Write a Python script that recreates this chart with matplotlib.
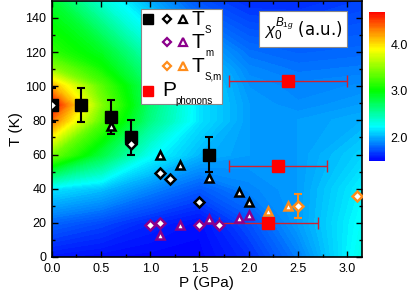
import numpy as np
import matplotlib
matplotlib.use('Agg')
import matplotlib.pyplot as plt
from matplotlib.colors import LinearSegmentedColormap
from matplotlib.patches import Rectangle

plt.rcParams['font.family'] = ['Liberation Sans', 'DejaVu Sans']
plt.rcParams['mathtext.fontset'] = 'custom'
plt.rcParams['mathtext.rm'] = 'Liberation Sans'
plt.rcParams['mathtext.it'] = 'Liberation Sans:italic'

# background chi_0^B1g map
p_grid = [0.0, 0.5, 1.0, 1.5, 2.0, 2.5, 3.15]
t_grid = [0, 20, 40, 60, 80, 89, 100, 110, 120, 150]
chi_map = [
    [1.55, 1.52, 1.50, 1.50, 1.62, 1.85, 2.30],
    [1.78, 1.70, 1.60, 1.53, 1.72, 1.95, 2.25],
    [2.15, 2.05, 1.88, 1.75, 1.88, 1.95, 2.20],
    [3.40, 2.80, 2.25, 2.02, 1.95, 1.95, 2.10],
    [4.35, 3.30, 2.60, 2.15, 1.95, 1.95, 2.00],
    [4.69, 3.45, 2.65, 2.15, 1.95, 1.90, 1.95],
    [4.15, 3.30, 2.65, 2.15, 1.92, 1.88, 1.90],
    [3.50, 3.05, 2.55, 2.10, 1.88, 1.83, 1.85],
    [3.15, 2.90, 2.40, 2.00, 1.82, 1.78, 1.80],
    [2.85, 2.35, 1.98, 1.72, 1.62, 1.62, 1.68],
]

# T_S
ts_sq_p = [0.0, 0.3, 0.6, 0.8, 1.6]
ts_sq_t = [89, 89, 82, 70, 60]
ts_sq_err = [10, 10, 10, 10, 10]
ts_dia_p = [0.0, 0.8, 1.1, 1.2, 1.5]
ts_dia_t = [89, 66, 49, 45.5, 32]
ts_tri_p = [0.6, 1.1, 1.3, 1.6, 1.9, 2.0]
ts_tri_t = [77, 60, 54, 46, 38, 32]
# T_m
tm_dia_p = [1.0, 1.1, 1.5, 1.7]
tm_dia_t = [19, 20, 19, 19]
tm_tri_p = [1.1, 1.3, 1.6, 1.9, 2.0]
tm_tri_t = [13, 18.5, 22, 23, 24.5]
# T_S,m
tsm_tri_p = [2.2, 2.4]
tsm_tri_t = [27, 30]
tsm_dia_p = [2.5, 3.1]
tsm_dia_t = [30, 36]
tsm_dia_err = [7, 0]
# P_phonons
ph_p = [2.4, 2.3, 2.2]
ph_t = [103, 53, 20]
ph_perr = [0.6, 0.5, 0.5]

purple = '#8b008b'
orange = '#ff8c1a'

cmap = LinearSegmentedColormap.from_list('chi', [
    (0.0, (0, 0, 1)), (0.23, (0, 1, 1)), (0.47, (0, 1, 0)),
    (0.75, (1, 1, 0)), (0.87, (1, 0.55, 0)), (1.0, (1, 0, 0))])

fig = plt.figure(figsize=(4.15, 2.93), dpi=100)
ax = fig.add_axes([0.125, 0.123, 0.747, 0.874])
cax = fig.add_axes([0.889, 0.451, 0.039, 0.509])

cf = ax.contourf(p_grid, t_grid, chi_map, levels=np.linspace(1.49, 4.71, 120),
                 cmap=cmap)
cf.set_edgecolor('face')
cb = fig.colorbar(cf, cax=cax, ticks=[2.0, 3.0, 4.0])
cb.outline.set_visible(False)
cb.ax.tick_params(length=0, labelsize=9, pad=4)
cb.ax.set_yticklabels(['2.0', '3.0', '4.0'])

# error bars
ax.errorbar(ts_sq_p, ts_sq_t, yerr=ts_sq_err, fmt='none', ecolor='black',
            elinewidth=1.5, capsize=3, capthick=1.5, zorder=3)
ax.errorbar(tsm_dia_p[:1], tsm_dia_t[:1], yerr=tsm_dia_err[:1], fmt='none',
            ecolor=orange, elinewidth=1.5, capsize=3, capthick=1.5, zorder=3)
ax.errorbar(ph_p, ph_t, xerr=ph_perr, fmt='none', ecolor='#d02030',
            elinewidth=1, capsize=4, capthick=1, zorder=3)

ax.plot(ts_sq_p, ts_sq_t, 's', color='black', ms=8, zorder=4)
ax.plot(ts_dia_p, ts_dia_t, 'D', mfc='white', mec='black', mew=1.8, ms=5, zorder=5)
ax.plot(ts_tri_p, ts_tri_t, '^', mfc='white', mec='black', mew=1.8, ms=6, zorder=5)
ax.plot(tm_dia_p, tm_dia_t, 'D', mfc='white', mec=purple, mew=1.8, ms=5, zorder=5)
ax.plot(tm_tri_p, tm_tri_t, '^', mfc='white', mec=purple, mew=1.8, ms=6, zorder=5)
ax.plot(tsm_tri_p, tsm_tri_t, '^', mfc='white', mec=orange, mew=1.8, ms=6, zorder=5)
ax.plot(tsm_dia_p, tsm_dia_t, 'D', mfc='white', mec=orange, mew=1.8, ms=5, zorder=5)
ax.plot(ph_p, ph_t, 's', color='#ff0000', ms=8, zorder=4)

ax.set_xlim(0, 3.15)
ax.set_ylim(0, 150)
ax.set_xticks([0, 0.5, 1.0, 1.5, 2.0, 2.5, 3.0])
ax.set_xticklabels(['0.0', '0.5', '1.0', '1.5', '2.0', '2.5', '3.0'])
ax.set_xticks(np.arange(0.25, 3.15, 0.5), minor=True)
ax.set_yticks(range(0, 141, 20))
ax.set_yticks(range(10, 150, 20), minor=True)
ax.tick_params(which='both', direction='in', top=True, right=True, labelsize=9,
               width=1)
ax.tick_params(axis='x', pad=4)
ax.tick_params(axis='y', pad=4)
ax.tick_params(which='major', length=4)
ax.tick_params(which='minor', length=2.5)
for s in ax.spines.values():
    s.set_linewidth(1.2)
ax.set_xlabel('P (GPa)', fontsize=11, labelpad=1)
ax.set_ylabel('T (K)', fontsize=11, labelpad=2)

ax.text(0.81, 0.89, r'$\chi_0^{B_{1g}}$ (a.u.)', transform=ax.transAxes,
        ha='center', va='center', fontsize=12, zorder=6,
        family=['DejaVu Sans'],
        bbox=dict(boxstyle='square,pad=0.25', fc='white', ec='#888888', lw=0.8))

# hand-made legend (axes coordinates)
tr = ax.transAxes
ax.add_patch(Rectangle((0.287, 0.599), 0.262, 0.371, transform=tr, fc='white',
                       ec='#888888', lw=0.8, zorder=6))
rows_y = [0.928, 0.838, 0.745, 0.650]
col_x = [0.310, 0.371, 0.423]
mk = dict(transform=tr, clip_on=False, zorder=7, ls='none')
ax.plot(col_x[0], rows_y[0], 's', color='black', ms=7, **mk)
ax.plot(col_x[1], rows_y[0], 'D', mfc='white', mec='black', mew=1.6, ms=4.5, **mk)
ax.plot(col_x[2], rows_y[0], '^', mfc='white', mec='black', mew=1.6, ms=5.5, **mk)
ax.plot(col_x[1], rows_y[1], 'D', mfc='white', mec=purple, mew=1.6, ms=4.5, **mk)
ax.plot(col_x[2], rows_y[1], '^', mfc='white', mec=purple, mew=1.6, ms=5.5, **mk)
ax.plot(col_x[1], rows_y[2], 'D', mfc='white', mec=orange, mew=1.6, ms=4.5, **mk)
ax.plot(col_x[2], rows_y[2], '^', mfc='white', mec=orange, mew=1.6, ms=5.5, **mk)
ax.plot(col_x[0], rows_y[3], 's', color='#ff0000', ms=7, **mk)

labels = [('T', 'S'), ('T', 'm'), ('T', 'S,m')]
for (big, small), y in zip(labels, rows_y[:3]):
    ax.text(0.451, y, big, transform=tr, fontsize=15, va='center', ha='left', zorder=7)
    ax.text(0.494, y - 0.042, small, transform=tr, fontsize=7, va='center',
            ha='left', zorder=7)
ax.text(0.357, rows_y[3], 'P', transform=tr, fontsize=15, va='center', ha='left', zorder=7)
ax.text(0.397, rows_y[3] - 0.042, 'phonons', transform=tr, fontsize=7,
        va='center', ha='left', zorder=7)

fig.savefig('out.png', dpi=100)
